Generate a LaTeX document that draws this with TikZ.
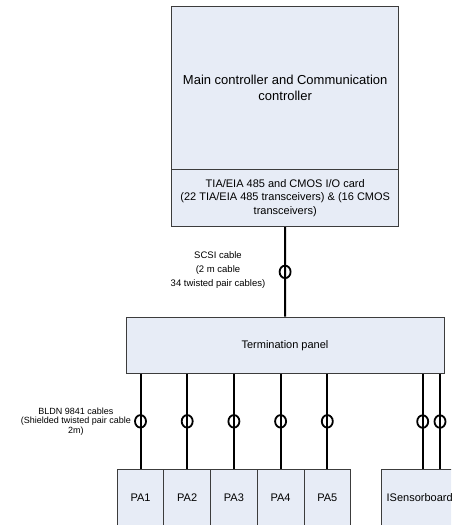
\documentclass[tikz,border=0pt]{standalone}
\usepackage{fontspec}
\setmainfont{Liberation Sans}
\usetikzlibrary{positioning, shapes.geometric}
\definecolor{boxfill}{RGB}{231,236,246}
\definecolor{boxline}{RGB}{60,60,60}

\tikzset{
  unit/.style={draw=boxline, fill=boxfill, line width=0.9pt, inner sep=0pt, align=center},
  cable/.style={line width=2pt},
  ferrite/.style={ellipse, draw, line width=1.8pt, minimum width=11pt, minimum height=12.5pt, inner sep=0pt},
  note/.style={align=center, inner sep=0pt},
}

\begin{document}
\begin{tikzpicture}[x=1pt, y=-1pt]
	      \useasboundingbox (0,0) rectangle (451,525);
	      \clip (0,0) rectangle (451,525);
	      % controller and its I/O card
	      \node[unit, minimum width=227pt, minimum height=162.6pt, font=\fontsize{13}{15.5}\selectfont] (main) at (285.2, 88)
	            {Main controller and Communication\\controller};
	      \node[unit, minimum width=227pt, minimum height=57.4pt, font=\fontsize{11}{13.3}\selectfont] (iocard) at (285.2, 198)
	            {TIA/EIA 485 and CMOS I/O card\\(22 TIA/EIA 485 transceivers) \& (16 CMOS\\transceivers)};
	      \node[unit, minimum width=318pt, minimum height=56.3pt, font=\fontsize{11}{13}\selectfont] (panel) at (285, 345.2) {Termination panel};
	      % drives and sensor board
	      \node[unit, minimum width=46.7pt, minimum height=57pt, font=\fontsize{11}{13}\selectfont] (pa1) at (140.5, 497.8) {PA1};
	      \node[unit, minimum width=46.7pt, minimum height=57pt, font=\fontsize{11}{13}\selectfont] (pa2) at (187.2, 497.8) {PA2};
	      \node[unit, minimum width=46.7pt, minimum height=57pt, font=\fontsize{11}{13}\selectfont] (pa3) at (233.9, 497.8) {PA3};
	      \node[unit, minimum width=46.7pt, minimum height=57pt, font=\fontsize{11}{13}\selectfont] (pa4) at (280.6, 497.8) {PA4};
	      \node[unit, minimum width=46.7pt, minimum height=57pt, font=\fontsize{11}{13}\selectfont] (pa5) at (327.3, 497.8) {PA5};
	      \node[unit, minimum width=76pt, minimum height=57pt, font=\fontsize{11}{13}\selectfont] (sensor) at (419.7, 497.8) {ISensorboard};
	      \coordinate (s1) at (422.7, 469.3);
	      \coordinate (s2) at (440, 469.3);
	      % cables
	      \draw[cable] (iocard.south) -- (panel.north) node[ferrite, midway] (scsi) {};
	      \node[note, font=\fontsize{9.5}{14}\selectfont] (scsilabel) at (218, 270) {SCSI cable\\(2 m cable\\34 twisted pair cables)};
	      \draw[cable] (pa1.north |- panel.south) -- (pa1.north) node[ferrite, midway] (f1) {};
	      \draw[cable] (pa2.north |- panel.south) -- (pa2.north) node[ferrite, midway] (f2) {};
	      \draw[cable] (pa3.north |- panel.south) -- (pa3.north) node[ferrite, midway] (f3) {};
	      \draw[cable] (pa4.north |- panel.south) -- (pa4.north) node[ferrite, midway] (f4) {};
	      \draw[cable] (pa5.north |- panel.south) -- (pa5.north) node[ferrite, midway] (f5) {};
	      \draw[cable] (s1 |- panel.south) -- (s1) node[ferrite, midway] (f6) {};
	      \draw[cable] (s2 |- panel.south) -- (s2) node[ferrite, midway] (f7) {};
	      \node[note, font=\fontsize{9}{9.6}\selectfont, left=3pt of f1] (bldn) {BLDN 9841 cables\\(Shielded twisted pair cable\\2m)};

	      \end{tikzpicture}
\end{document}
